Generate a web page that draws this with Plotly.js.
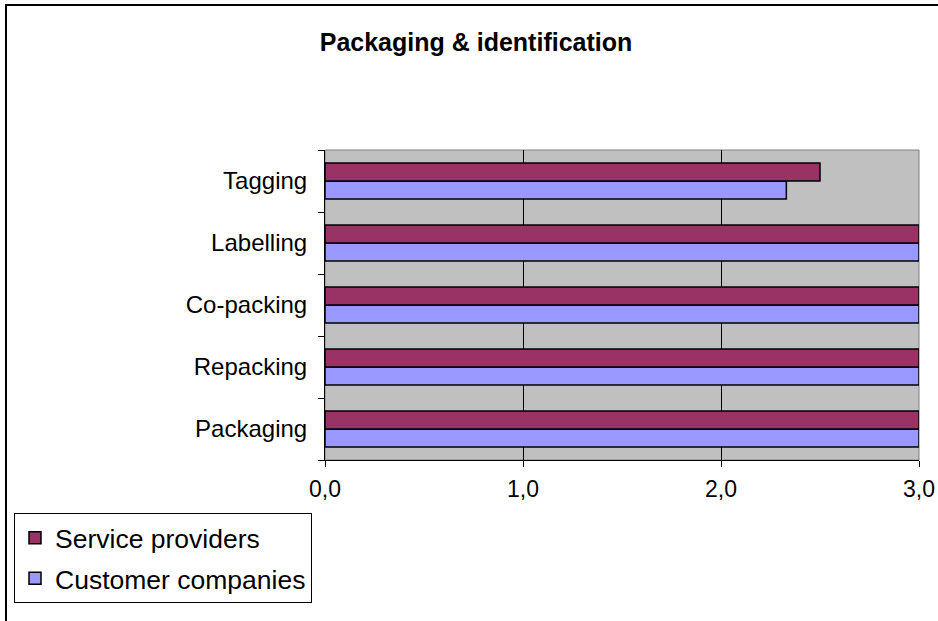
<!DOCTYPE html>
<html>
<head>
<meta charset="utf-8">
<script src="https://cdn.plot.ly/plotly-3.0.1.min.js"></script>
<style>html,body{margin:0;padding:0;background:#fff;}#chart{width:938px;height:621px;}</style>
</head>
<body>
<div id="chart"></div>
<script>
const categories = ["Packaging", "Repacking", "Co-packing", "Labelling", "Tagging"];
const serviceProviders = [3.0, 3.0, 3.0, 3.0, 2.5];
const customerCompanies = [3.0, 3.0, 3.0, 3.0, 2.33];
const xTicks = [0, 1, 2, 3];

const W = 938, H = 621;
const L = 325, R = 919, T = 150, B = 460;
const px = v => (v - L) / (R - L);
const py = v => (B - v) / (B - T);

const traces = [
  {
    type: "bar", orientation: "h", name: "Customer companies",
    y: categories, x: customerCompanies,
    marker: {color: "#9999FF", line: {color: "#000000", width: 1.5}},
    legendgroup: "b", legendrank: 2, hoverinfo: "x+y"
  },
  {
    type: "bar", orientation: "h", name: "Service providers",
    y: categories, x: serviceProviders,
    marker: {color: "#993366", line: {color: "#000000", width: 1.5}},
    legendgroup: "a", legendrank: 1, hoverinfo: "x+y"
  }
];

const layout = {
  width: W, height: H,
  margin: {l: L, r: W - R, t: T, b: H - B, pad: 0},
  paper_bgcolor: "#ffffff",
  plot_bgcolor: "#C0C0C0",
  separators: ",.",
  font: {family: "Liberation Sans, Arial, sans-serif", color: "#000000", size: 24},
  title: {
    text: "<b>Packaging & identification</b>",
    font: {family: "Liberation Sans, Arial, sans-serif", size: 25, color: "#000"},
    x: 476 / W, xanchor: "center", xref: "container",
    y: 1 - 42 / H, yanchor: "middle", yref: "container"
  },
  barmode: "group",
  bargap: 0.42,
  bargroupgap: 0,
  xaxis: {
    range: [0, 3], tickvals: xTicks, tickformat: ".1f",
    showgrid: true, gridcolor: "#000000", gridwidth: 1,
    zeroline: false, showline: true, linecolor: "#000000", linewidth: 1,
    ticks: "outside", ticklen: 6, tickcolor: "#000000", tickwidth: 1,
    ticklabelstandoff: 2,
    tickfont: {size: 23}, fixedrange: true
  },
  yaxis: {
    type: "category", categoryorder: "array", categoryarray: categories,
    showgrid: false, zeroline: false,
    showline: true, linecolor: "#000000", linewidth: 1,
    ticks: "outside", ticklen: 6, tickcolor: "#000000", tickwidth: 1,
    tickson: "boundaries", ticklabelstandoff: 12,
    tickfont: {size: 24}, fixedrange: true
  },
  showlegend: true,
  legend: {
    x: px(14), y: py(513), xanchor: "left", yanchor: "top",
    bgcolor: "#ffffff", bordercolor: "#000000", borderwidth: 1,
    font: {size: 26.5, color: "#000"},
    traceorder: "grouped", tracegroupgap: 3,
    itemwidth: 30
  },
  shapes: [
    {type: "rect", xref: "paper", yref: "paper", x0: 0, x1: 1, y0: 0, y1: 1,
     line: {color: "#808080", width: 1}, fillcolor: "rgba(0,0,0,0)", layer: "below"},
    {type: "rect", xref: "paper", yref: "paper",
     x0: px(6), x1: px(960), y0: py(5), y1: py(660),
     line: {color: "#000000", width: 2}, fillcolor: "rgba(0,0,0,0)", layer: "above"}
  ]
};

Plotly.newPlot("chart", traces, layout, {displayModeBar: false, staticPlot: true});
</script>
</body>
</html>
